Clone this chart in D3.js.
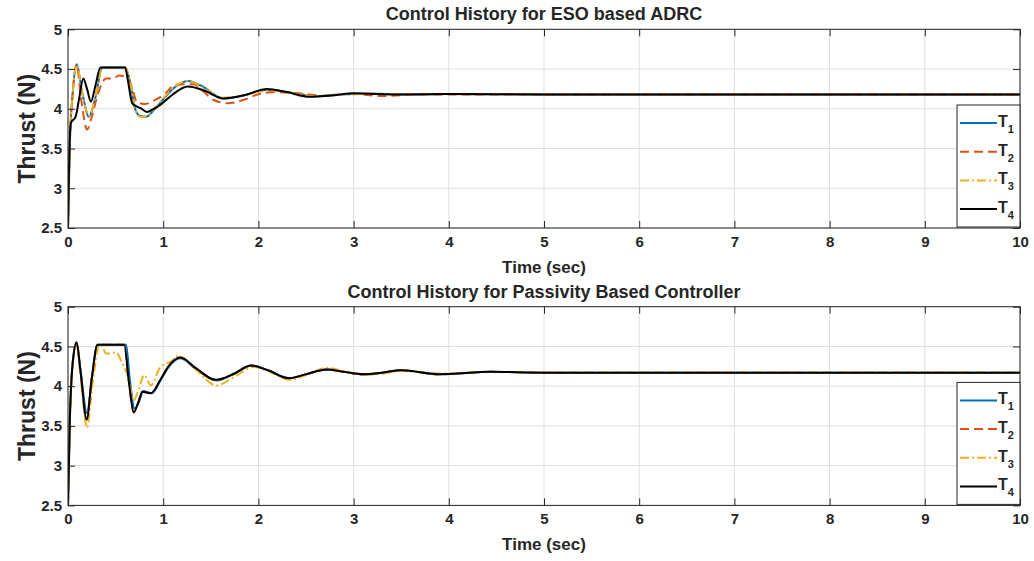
<!DOCTYPE html>
<html>
<head>
<meta charset="utf-8">
<script src="https://cdn.jsdelivr.net/npm/d3@7"></script>
<style>
  body { margin: 0; background: #fff; }
  text { font-family: "Liberation Sans", Arial, sans-serif; font-weight: bold; fill: #262626; }
</style>
</head>
<body>
<script>
// axis ticks
var timeTicks = [0, 1, 2, 3, 4, 5, 6, 7, 8, 9, 10];
var thrustTicks = [2.5, 3, 3.5, 4, 4.5, 5];
var seriesNames = ['T1', 'T2', 'T3', 'T4'];

// --- ESO based ADRC (top panel) ---
var topT1Time = [0, 0.02, 0.05, 0.09, 0.15, 0.22, 0.29, 0.36, 0.6, 0.66, 0.71, 0.76, 0.82, 0.9, 1.0, 1.11, 1.26, 1.4, 1.63, 1.85, 2.1, 2.35, 2.6, 2.85, 3.2, 3.6, 4.0, 5, 10];
var topT1 = [2.5, 3.6, 4.2, 4.56, 4.2, 3.9, 4.15, 4.52, 4.52, 4.3, 3.98, 3.91, 3.9, 3.98, 4.12, 4.26, 4.35, 4.29, 4.13, 4.17, 4.24, 4.2, 4.16, 4.18, 4.19, 4.18, 4.185, 4.18, 4.18];

var topT2Time = [0, 0.02, 0.05, 0.09, 0.14, 0.2, 0.25, 0.31, 0.4, 0.47, 0.54, 0.6, 0.64, 0.68, 0.72, 0.8, 0.93, 1.02, 1.12, 1.32, 1.42, 1.53, 1.68, 1.84, 2.02, 2.19, 2.47, 2.7, 2.95, 3.3, 3.7, 4.2, 5, 10];
var topT2 = [2.5, 3.6, 4.2, 4.55, 4.1, 3.74, 3.9, 4.17, 4.38, 4.38, 4.42, 4.4, 4.36, 4.24, 4.09, 4.06, 4.12, 4.19, 4.3, 4.31, 4.22, 4.11, 4.07, 4.11, 4.19, 4.21, 4.19, 4.16, 4.19, 4.16, 4.18, 4.18, 4.18, 4.18];

var topT3Time = [0, 0.02, 0.05, 0.09, 0.15, 0.22, 0.29, 0.36, 0.6, 0.66, 0.71, 0.76, 0.82, 0.9, 1.0, 1.11, 1.26, 1.4, 1.63, 1.85, 2.1, 2.35, 2.6, 2.85, 3.2, 3.6, 4.0, 5, 10];
var topT3 = [2.5, 3.6, 4.2, 4.55, 4.2, 3.91, 4.16, 4.52, 4.52, 4.3, 3.97, 3.9, 3.9, 3.99, 4.13, 4.27, 4.35, 4.28, 4.14, 4.17, 4.23, 4.2, 4.16, 4.18, 4.19, 4.18, 4.185, 4.18, 4.18];

var topT4Time = [0, 0.01, 0.03, 0.08, 0.12, 0.16, 0.2, 0.24, 0.29, 0.34, 0.6, 0.63, 0.675, 0.72, 0.76, 0.83, 0.9, 0.97, 1.1, 1.26, 1.45, 1.63, 1.85, 2.09, 2.3, 2.54, 2.8, 3.0, 3.5, 4.0, 5, 10];
var topT4 = [2.5, 3.2, 3.82, 3.9, 4.15, 4.38, 4.25, 4.09, 4.3, 4.52, 4.52, 4.35, 4.07, 4.03, 4.01, 3.96, 4.0, 4.05, 4.18, 4.28, 4.22, 4.13, 4.17, 4.25, 4.21, 4.15, 4.17, 4.195, 4.18, 4.185, 4.18, 4.18];

// --- Passivity based controller (bottom panel) ---
var botT1Time = [0, 0.02, 0.05, 0.09, 0.13, 0.2, 0.25, 0.31, 0.61, 0.65, 0.7, 0.75, 0.79, 0.88, 0.97, 1.05, 1.18, 1.35, 1.56, 1.75, 1.93, 2.1, 2.33, 2.5, 2.72, 2.9, 3.1, 3.3, 3.5, 3.9, 4.45, 5, 10];
var botT1 = [2.5, 3.6, 4.3, 4.55, 4.22, 3.66, 4.1, 4.52, 4.52, 4.08, 3.72, 3.82, 3.94, 3.91, 4.07, 4.23, 4.35, 4.21, 4.07, 4.16, 4.26, 4.2, 4.1, 4.15, 4.21, 4.18, 4.15, 4.17, 4.2, 4.15, 4.18, 4.17, 4.17];

var botT4Time = [0, 0.02, 0.05, 0.09, 0.13, 0.196, 0.25, 0.31, 0.59, 0.64, 0.69, 0.74, 0.78, 0.87, 0.97, 1.05, 1.18, 1.35, 1.55, 1.75, 1.92, 2.1, 2.32, 2.5, 2.72, 2.9, 3.1, 3.3, 3.5, 3.9, 4.45, 5, 10];
var botT4 = [2.5, 3.6, 4.3, 4.55, 4.2, 3.58, 4.1, 4.52, 4.52, 4.05, 3.67, 3.8, 3.93, 3.91, 4.08, 4.24, 4.36, 4.22, 4.08, 4.16, 4.26, 4.2, 4.1, 4.15, 4.21, 4.18, 4.15, 4.17, 4.2, 4.15, 4.18, 4.17, 4.17];

// T2 sits under T4 in this run
var botT2Time = botT4Time;
var botT2 = botT4;

var botT3Time = [0, 0.02, 0.05, 0.09, 0.13, 0.2, 0.26, 0.33, 0.36, 0.4, 0.45, 0.5, 0.57, 0.64, 0.69, 0.74, 0.8, 0.87, 0.97, 1.08, 1.16, 1.35, 1.56, 1.75, 1.95, 2.12, 2.33, 2.5, 2.72, 2.9, 3.1, 3.3, 3.5, 3.9, 4.45, 5, 10];
var botT3 = [2.5, 3.6, 4.3, 4.55, 4.15, 3.48, 4.05, 4.52, 4.5, 4.41, 4.41, 4.43, 4.29, 4.08, 3.82, 3.95, 4.14, 4.01, 4.24, 4.31, 4.38, 4.2, 4.01, 4.12, 4.24, 4.18, 4.08, 4.14, 4.23, 4.19, 4.14, 4.16, 4.19, 4.16, 4.18, 4.17, 4.17];

var colors = ['#0072BD', '#D95319', '#EDB120', '#000000'];
var dashes = [null, '9,5', '9,3,2,3', null];

var width = 1034, height = 561;
var svg = d3.select('body').append('svg').attr('width', width).attr('height', height);

var x = d3.scaleLinear().domain([0, 10]).range([68, 1020]);

function drawPanel(top, bottom, title, tsets, vsets) {
	var y = d3.scaleLinear().domain([2.5, 5]).range([bottom, top]);
	var g = svg.append('g');

	// grid
	g.selectAll('.gx').data(timeTicks).enter().append('line')
	 .attr('x1', d => x(d)).attr('x2', d => x(d))
	 .attr('y1', top).attr('y2', bottom)
	 .attr('stroke', '#dedede').attr('stroke-width', 1);
	g.selectAll('.gy').data(thrustTicks).enter().append('line')
	 .attr('x1', 68).attr('x2', 1020)
	 .attr('y1', d => y(d)).attr('y2', d => y(d))
	 .attr('stroke', '#dedede').attr('stroke-width', 1);

	// curves
	var line = d3.line().x(d => x(d[0])).y(d => y(d[1])).curve(d3.curveMonotoneX);
	var clipId = 'clip' + Math.round(top);
	svg.append('clipPath').attr('id', clipId).append('rect')
	   .attr('x', 68).attr('y', top).attr('width', 952).attr('height', bottom - top);
	for (var i = 0; i < 4; i++) {
		var pts = tsets[i].map((t, k) => [t, vsets[i][k]]);
		g.append('path')
		 .attr('d', line(pts))
		 .attr('fill', 'none')
		 .attr('stroke', colors[i])
		 .attr('stroke-width', 2)
		 .attr('stroke-dasharray', dashes[i])
		 .attr('stroke-linejoin', 'round')
		 .attr('clip-path', 'url(#' + clipId + ')');
	}

	// axes (ticks pointing inward, MATLAB style)
	g.append('g').attr('transform', 'translate(0,' + bottom + ')')
	 .call(d3.axisBottom(x).tickValues(timeTicks).tickSize(-7).tickPadding(8).tickFormat(d => d))
	 .call(a => a.select('.domain').remove());
	g.append('g').attr('transform', 'translate(0,' + top + ')')
	 .call(d3.axisTop(x).tickValues(timeTicks).tickSize(-7).tickFormat(''))
	 .call(a => a.select('.domain').remove());
	g.append('g').attr('transform', 'translate(68,0)')
	 .call(d3.axisLeft(y).tickValues(thrustTicks).tickSize(-7).tickPadding(6).tickFormat(d => d))
	 .call(a => a.select('.domain').remove());
	g.append('g').attr('transform', 'translate(1020,0)')
	 .call(d3.axisRight(y).tickValues(thrustTicks).tickSize(-7).tickFormat(''))
	 .call(a => a.select('.domain').remove());
	g.selectAll('.tick line').attr('stroke', '#262626');
	g.selectAll('.tick text').attr('font-size', 15).attr('fill', '#262626')
	 .attr('font-family', '"Liberation Sans", Arial, sans-serif').attr('font-weight', 'bold');

	g.append('rect').attr('x', 68).attr('y', top).attr('width', 952).attr('height', bottom - top)
	 .attr('fill', 'none').attr('stroke', '#262626').attr('stroke-width', 1);

	// labels
	g.append('text').attr('x', 544).attr('y', top - 9).attr('text-anchor', 'middle')
	 .attr('font-size', 18).text(title);
	g.append('text').attr('x', 544).attr('y', bottom + 45).attr('text-anchor', 'middle')
	 .attr('font-size', 17).text('Time (sec)');
	g.append('text').attr('transform', 'translate(35,' + ((top + bottom) / 2) + ') rotate(-90)')
	 .attr('text-anchor', 'middle').attr('font-size', 23).text('Thrust (N)');

	// legend
	var lg = g.append('g').attr('transform', 'translate(957,' + (bottom - 123) + ')');
	lg.append('rect').attr('width', 63).attr('height', 122)
	  .attr('fill', '#fff').attr('stroke', '#262626').attr('stroke-width', 1);
	seriesNames.forEach(function (name, i) {
		var yy = 18 + i * 28.7;
		lg.append('line').attr('x1', 3).attr('x2', 40).attr('y1', yy).attr('y2', yy)
		  .attr('stroke', colors[i]).attr('stroke-width', 2).attr('stroke-dasharray', dashes[i]);
		var t = lg.append('text').attr('x', 41).attr('y', yy + 4).attr('font-size', 16);
		t.append('tspan').text('T');
		t.append('tspan').attr('font-size', 11).attr('dy', 6).text(name.slice(1));
	});
}

drawPanel(29.3, 228, 'Control History for ESO based ADRC',
	[topT1Time, topT2Time, topT3Time, topT4Time], [topT1, topT2, topT3, topT4]);
drawPanel(306.7, 505.4, 'Control History for Passivity Based Controller',
	[botT1Time, botT2Time, botT3Time, botT4Time], [botT1, botT2, botT3, botT4]);
</script>
</body>
</html>
